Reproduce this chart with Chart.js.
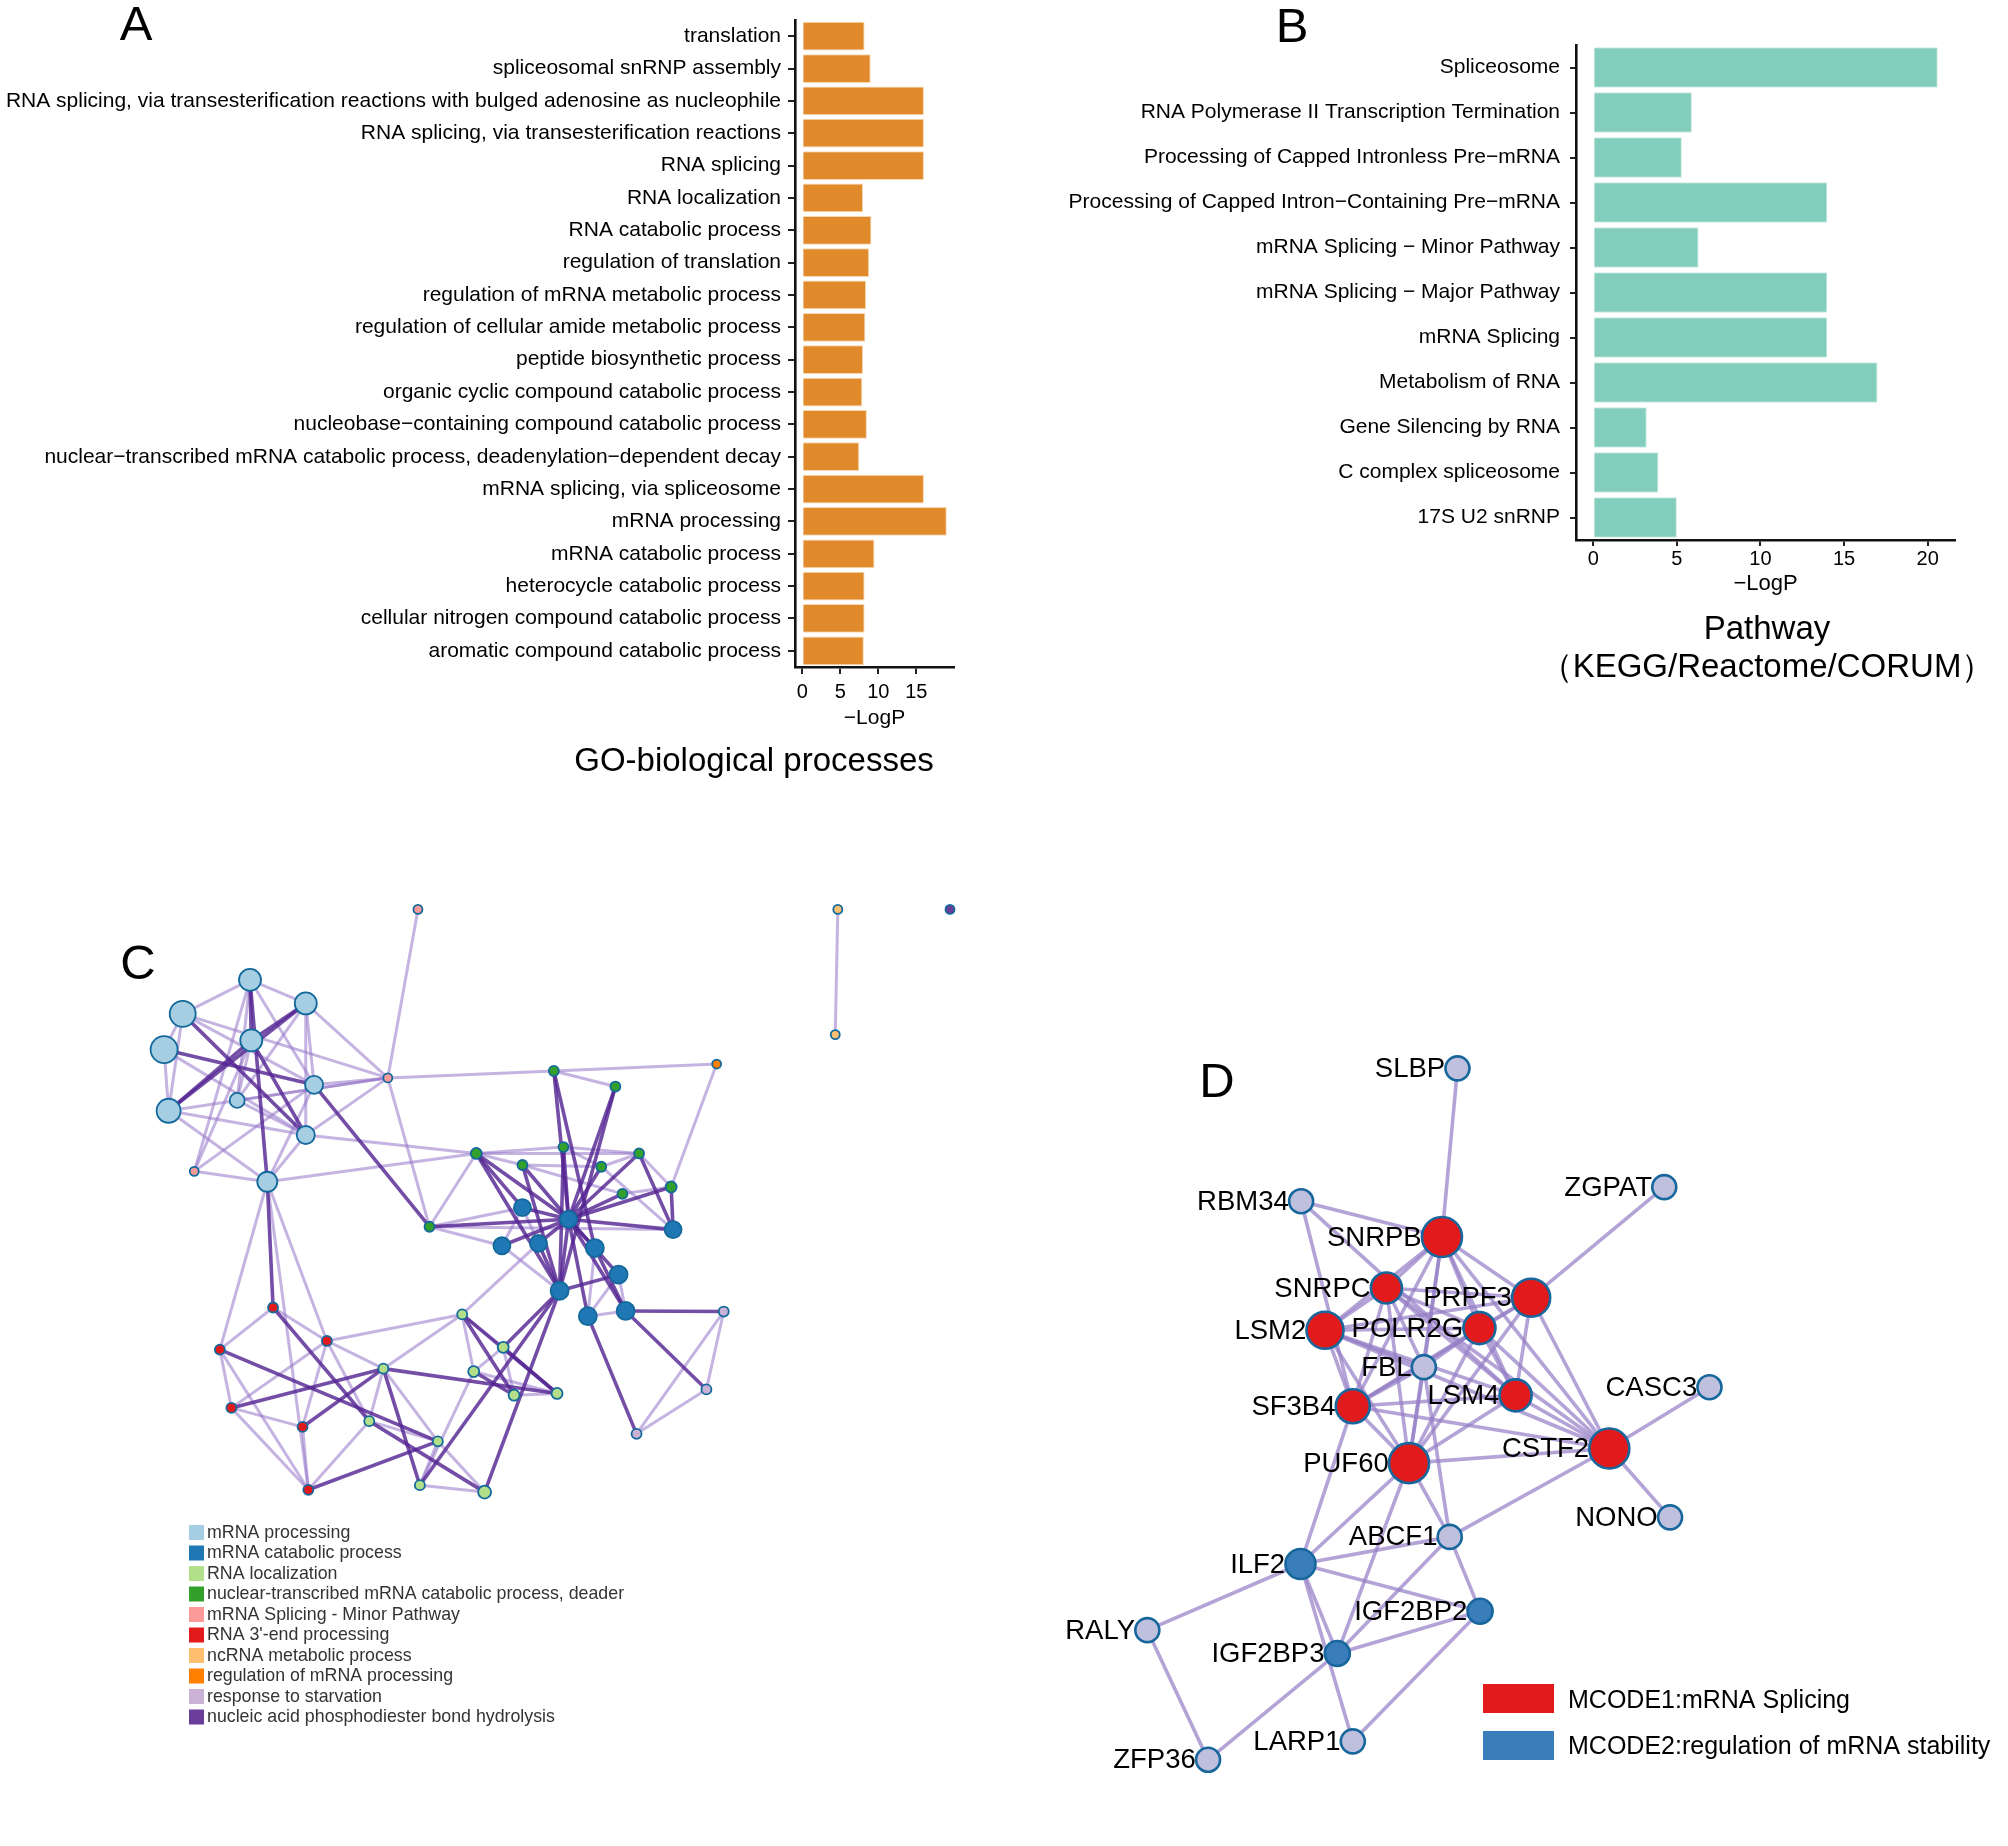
<!DOCTYPE html>
<html><head><meta charset="utf-8">
<script src="https://cdn.jsdelivr.net/npm/chart.js@4.4.1/dist/chart.umd.min.js"></script>
<style>
html,body{margin:0;padding:0;background:#fff;}
body{width:2008px;height:1846px;position:relative;overflow:hidden;}
canvas{position:absolute;}
</style></head><body>
<canvas id="cA" width="1000" height="800" style="left:0;top:0;width:1000px;height:800px"></canvas>
<canvas id="cB" width="1008" height="700" style="left:1000px;top:0;width:1008px;height:700px"></canvas>
<canvas id="cC" width="1000" height="900" style="left:0;top:850px;width:1000px;height:900px"></canvas>
<canvas id="cD" width="1008" height="846" style="left:1000px;top:1000px;width:1008px;height:846px"></canvas>
<script>
// ---------------- DATA ----------------
const goTerms = [
  "translation",
  "spliceosomal snRNP assembly",
  "RNA splicing, via transesterification reactions with bulged adenosine as nucleophile",
  "RNA splicing, via transesterification reactions",
  "RNA splicing",
  "RNA localization",
  "RNA catabolic process",
  "regulation of translation",
  "regulation of mRNA metabolic process",
  "regulation of cellular amide metabolic process",
  "peptide biosynthetic process",
  "organic cyclic compound catabolic process",
  "nucleobase\u2212containing compound catabolic process",
  "nuclear\u2212transcribed mRNA catabolic process, deadenylation\u2212dependent decay",
  "mRNA splicing, via spliceosome",
  "mRNA processing",
  "mRNA catabolic process",
  "heterocycle catabolic process",
  "cellular nitrogen compound catabolic process",
  "aromatic compound catabolic process"
];
const goLogP = [8.2, 9.0, 16.0, 16.0, 16.0, 8.0, 9.1, 8.8, 8.4, 8.3, 8.0, 7.9, 8.5, 7.5, 16.0, 19.0, 9.5, 8.2, 8.2, 8.1];
const goTicks = [0, 5, 10, 15];

const pathwayTerms = [
  "Spliceosome",
  "RNA Polymerase II Transcription Termination",
  "Processing of Capped Intronless Pre\u2212mRNA",
  "Processing of Capped Intron\u2212Containing Pre\u2212mRNA",
  "mRNA Splicing \u2212 Minor Pathway",
  "mRNA Splicing \u2212 Major Pathway",
  "mRNA Splicing",
  "Metabolism of RNA",
  "Gene Silencing by RNA",
  "C complex spliceosome",
  "17S U2 snRNP"
];
const pathwayLogP = [20.6, 5.9, 5.3, 14.0, 6.3, 14.0, 14.0, 17.0, 3.2, 3.9, 5.0];
const pathwayTicks = [0, 5, 10, 15, 20];

// Panel C: enriched-term network (layout units)
const cTerms = ["mRNA processing", "mRNA catabolic process", "RNA localization",
  "nuclear-transcribed mRNA catabolic process, deader", "mRNA Splicing - Minor Pathway",
  "RNA 3'-end processing", "ncRNA metabolic process", "regulation of mRNA processing",
  "response to starvation", "nucleic acid phosphodiester bond hydrolysis"];
const cNodeIds = ["L1","L2","L3","L4","L5","L6","L7","L8","L9","L10","P1","P2","P3","O1","O2","N1","Q1",
  "G1","G2","G3","G4","G5","G6","G7","G8","G9","G10","B1","B2","B3","B4","B5","B6","B7","B8","B9","B10",
  "Y1","Y2","Y3","Y4","Y5","Y6","Y7","Y8","Y9","Y10","E1","E2","E3","E4","E5","E6","V1","V2","V3"];
const cNodeX = [390,477,285,392,256,490,370,263,477,417,652,605,303,1307,1303,1482,1118,
  864,960,743,879,815,938,997,1047,971,670,815,887,783,840,928,1050,965,873,917,976,
  721,785,739,802,869,598,576,683,655,756,426,510,343,361,472,481,1129,1102,993];
const cNodeY = [225,266,284,330,346,407,434,452,494,575,103,395,557,103,320,103,371,
  383,410,526,515,546,549,526,584,596,653,620,640,686,682,690,658,736,764,808,799,
  805,862,904,945,942,899,990,1025,1101,1113,793,851,866,967,1000,1109,800,935,1012];
const cNodeTerm = [0,0,0,0,0,0,0,0,0,0,4,4,4,6,6,9,7,
  3,3,3,3,3,3,3,3,3,3,1,1,1,1,1,1,1,1,1,1,
  2,2,2,2,2,2,2,2,2,2,5,5,5,5,5,5,8,8,8];
const cEdgesStrong = [["L1","L4"],["L1","L10"],["L3","L9"],["L2","L8"],["L5","L6"],["L4","L8"],["L2","L4"],["L4","L9"],["L6","G10"],["L10","E1"],
  ["G1","B2"],["G2","B2"],["G3","B2"],["G4","B2"],["G5","B2"],["G6","B2"],["G7","B2"],["G8","B2"],["G9","B2"],["G10","B2"],
  ["B1","B2"],["B3","B2"],["B4","B2"],["B5","B2"],["B6","B2"],["B7","B2"],["B8","B2"],["B9","B2"],["B10","B2"],
  ["G3","B1"],["G3","B8"],["G5","B8"],["G7","B6"],["G8","B6"],["G2","B8"],["B4","B8"],["B5","B10"],["B7","B8"],["G1","B5"],["G4","B8"],
  ["B10","V1"],["B9","V3"],["B10","V2"],
  ["B8","Y2"],["B8","Y9"],["B8","Y10"],["Y1","Y4"],["Y1","Y5"],["Y2","Y5"],["Y3","Y4"],
  ["E3","Y8"],["E1","Y7"],["E4","Y6"],["E5","Y6"],["E6","Y8"],["Y6","Y9"],["Y6","Y5"],["Y7","Y10"]];
const cEdgesWeak = [["L1","L2"],["L3","L5"],["L5","L8"],["L1","L3"],["L2","L6"],["L2","L9"],["L4","L7"],["L7","L9"],["L8","L9"],["L1","L7"],["L3","L6"],["L1","L6"],
  ["L5","L9"],["L3","L8"],["L10","L9"],["L10","L6"],["L10","L8"],["L2","L7"],
  ["L6","P2"],["L9","P2"],["L8","P2"],["L3","P2"],["L2","P2"],["L7","P2"],["P3","L4"],["P3","L6"],["P3","L10"],["P3","L1"],
  ["P1","P2"],["P2","G1"],["P2","G10"],["L10","G3"],["L9","G3"],
  ["G1","Q1"],["Q1","G8"],["G1","G2"],
  ["G3","G5"],["G3","G4"],["G4","G7"],["G5","G6"],["G6","G7"],["G7","G8"],["G8","G9"],["G3","G10"],["G10","B1"],["G10","B6"],["G10","B3"],
  ["G5","G9"],["G4","G6"],["G3","G7"],
  ["B3","B8"],["B7","B10"],["B5","B9"],["B9","B10"],["B1","B3"],["B6","G6"],["B1","B4"],["B7","B9"],
  ["Y1","B4"],["Y1","Y2"],["Y1","Y3"],["Y2","Y3"],["Y3","Y5"],["Y4","Y5"],["Y2","Y4"],["Y1","Y6"],["Y3","Y9"],
  ["V1","V2"],["V2","V3"],["V1","V3"],
  ["L10","E3"],["L10","E2"],["L10","E6"],
  ["E3","E4"],["E3","E1"],["E1","E2"],["E2","E5"],["E4","E6"],["E3","E6"],["E5","E6"],["E2","Y7"],["E2","Y6"],["E2","E4"],["E2","Y1"],["E4","E5"],["E6","Y7"],
  ["Y6","Y8"],["Y7","Y8"],["Y8","Y9"],["Y9","Y10"],["Y8","Y10"],["Y6","Y7"],
  ["O1","O2"]];

// Panel D: MCODE PPI network (layout units)
const dGenes = ["SLBP","ZGPAT","RBM34","SNRPB","SNRPC","PRPF3","LSM2","POLR2G","FBL","LSM4","SF3B4","CASC3",
  "CSTF2","PUF60","NONO","ABCF1","ILF2","IGF2BP2","RALY","IGF2BP3","LARP1","ZFP36"];
const dNodeX = [708,1028,466,684,598,822,503,742,656,798,546,1098,943,633,1037,696,465,743,228,522,546,322];
const dNodeY = [126,345,371,437,531,549,609,605,677,729,749,714,827,854,954,990,1040,1127,1162,1205,1367,1401];
const dCluster = [0,0,0,1,1,1,1,1,0,1,1,0,1,1,0,0,2,2,0,2,0,0];
const dClusterNames = ["", "MCODE1:mRNA Splicing", "MCODE2:regulation of mRNA stability"];
const dEdges = [["SLBP","SNRPB"],["RBM34","SNRPB"],["RBM34","SF3B4"],["RBM34","LSM4"],["ZGPAT","PRPF3"],
  ["SNRPB","SNRPC"],["SNRPB","PRPF3"],["SNRPB","LSM2"],["SNRPB","POLR2G"],["SNRPB","FBL"],["SNRPB","LSM4"],["SNRPB","SF3B4"],["SNRPB","PUF60"],["SNRPB","CSTF2"],
  ["SNRPC","LSM2"],["SNRPC","PRPF3"],["SNRPC","POLR2G"],["SNRPC","SF3B4"],["SNRPC","PUF60"],["SNRPC","LSM4"],["SNRPC","CSTF2"],["SNRPC","FBL"],
  ["PRPF3","POLR2G"],["PRPF3","LSM2"],["PRPF3","SF3B4"],["PRPF3","PUF60"],["PRPF3","CSTF2"],["PRPF3","LSM4"],
  ["LSM2","POLR2G"],["LSM2","FBL"],["LSM2","SF3B4"],["LSM2","PUF60"],["LSM2","LSM4"],["LSM2","CSTF2"],
  ["POLR2G","FBL"],["POLR2G","SF3B4"],["POLR2G","PUF60"],["POLR2G","LSM4"],["POLR2G","CSTF2"],
  ["FBL","SF3B4"],["FBL","ABCF1"],["FBL","PUF60"],
  ["LSM4","SF3B4"],["LSM4","PUF60"],["LSM4","CSTF2"],
  ["SF3B4","PUF60"],["SF3B4","CSTF2"],["SF3B4","ILF2"],
  ["CSTF2","PUF60"],["CSTF2","CASC3"],["CSTF2","NONO"],["CSTF2","ABCF1"],
  ["PUF60","ILF2"],["PUF60","ABCF1"],["PUF60","IGF2BP3"],
  ["ILF2","ABCF1"],["ILF2","IGF2BP2"],["ILF2","IGF2BP3"],["ILF2","RALY"],["ILF2","LARP1"],
  ["ABCF1","IGF2BP3"],["ABCF1","IGF2BP2"],["IGF2BP2","IGF2BP3"],["IGF2BP2","LARP1"],
  ["IGF2BP3","ZFP36"],["RALY","ZFP36"]];

// ---------------- STYLES ----------------
const FONT = "'Liberation Sans', Arial, Helvetica, sans-serif";
Chart.defaults.font.family = FONT;
Chart.defaults.color = '#000';
const cTermColors = ["#a6cee3","#1f78b4","#b2df8a","#33a02c","#fb9a99","#e31a1c","#fdbf6f","#ff7f00","#cab2d6","#6a3d9a"];
const cNodeRadius = [11,11,13,11,13.5,9,7.5,12,9,10, 4.5,4.5,4.5, 4.5,4.5,4.5,4.5,
  5,5,5.5,5,5,5,5,5.5,5,5, 8.5,8.5,8.5,8.5,9,8.5,9,9,9,9,
  5,5.5,5.5,5.5,5.5,5,5,5,5,6.5, 5,5,5,5,5,5, 5,5,5];
const dClusterColors = ["#bfc0de", "#e31a1c", "#3a7dbb"];
const dNodeRadius = [12,12,12,20,15.5,19,18.5,16,12,16,17,12,20,20,12,12,15,12.5,12,12.5,12,12];

const textPlugin = {
  id: 'panelText',
  afterDraw(chart, args, opts) {
    const ctx = chart.ctx;
    (opts.rects || []).forEach(r => {
      ctx.save(); ctx.fillStyle = r.color; ctx.fillRect(r.x, r.y, r.w, r.h); ctx.restore();
    });
    (opts.items || []).forEach(it => {
      ctx.save();
      ctx.font = (it.size || 20) + 'px ' + FONT;
      ctx.fillStyle = it.color || '#000';
      ctx.textAlign = it.align || 'center';
      ctx.textBaseline = 'middle';
      ctx.fillText(it.text, it.x, it.y);
      ctx.restore();
    });
  }
};

const nodeLabelPlugin = {
  id: 'nodeLabels',
  afterDatasetsDraw(chart, args, opts) {
    if (!opts.labels) return;
    const meta = chart.getDatasetMeta(0);
    const ctx = chart.ctx;
    ctx.save();
    ctx.font = (opts.size || 26) + 'px ' + FONT;
    ctx.fillStyle = '#000';
    ctx.textAlign = 'right';
    ctx.textBaseline = 'middle';
    meta.data.forEach((pt, i) => {
      const r = pt.options.radius + pt.options.borderWidth / 2;
      ctx.fillText(opts.labels[i], pt.x - r + 1, pt.y + 1);
    });
    ctx.restore();
  }
};

function axisStyle(tickLen) {
  return {
    grid: { display: true, drawOnChartArea: false, drawTicks: true, tickLength: tickLen, color: '#222', lineWidth: 2, offset: false },
    border: { display: true, color: '#111', width: 2.6 }
  };
}

// ---------------- PANEL A ----------------
new Chart(document.getElementById('cA'), {
  type: 'bar',
  data: { labels: goTerms, datasets: [{ data: goLogP, backgroundColor: '#E18A2B', borderColor: '#F8D8B2', borderWidth: 1, barPercentage: 0.89, categoryPercentage: 1 }] },
  options: {
    indexAxis: 'y', responsive: false, animation: false, events: [],
    layout: { padding: { top: 20, right: 46, bottom: 0, left: 0 } },
    plugins: {
      legend: { display: false }, tooltip: { enabled: false },
      panelText: { items: [
        { text: 'A', x: 136, y: 26, size: 49 },
        { text: 'GO-biological processes', x: 754, y: 762, size: 33 }
      ] }
    },
    scales: {
      y: Object.assign(axisStyle(7), {
        afterFit: s => { s.width = 795; },
        ticks: { font: { size: 21 }, color: '#000', padding: 7, autoSkip: false }
      }),
      x: Object.assign(axisStyle(7), {
        type: 'linear', min: -0.95, max: 19.95,
        afterBuildTicks: s => { s.ticks = goTicks.map(v => ({ value: v })); },
        afterFit: s => { s.height = 133; },
        ticks: { font: { size: 20 }, color: '#000', padding: 6 },
        title: { display: true, text: '\u2212LogP', font: { size: 21 }, color: '#000', padding: { top: 0, bottom: 69 } }
      })
    }
  },
  plugins: [textPlugin]
});

// ---------------- PANEL B ----------------
new Chart(document.getElementById('cB'), {
  type: 'bar',
  data: { labels: pathwayTerms, datasets: [{ data: pathwayLogP, backgroundColor: '#82CDBB', borderColor: '#CBECE3', borderWidth: 1, barPercentage: 0.9, categoryPercentage: 1 }] },
  options: {
    indexAxis: 'y', responsive: false, animation: false, events: [],
    layout: { padding: { top: 45, right: 53, bottom: 0, left: 0 } },
    plugins: {
      legend: { display: false }, tooltip: { enabled: false },
      panelText: { items: [
        { text: 'B', x: 292, y: 28, size: 49 },
        { text: 'Pathway', x: 767, y: 630, size: 33 },
        { text: '\uFF08KEGG/Reactome/CORUM\uFF09', x: 767, y: 668, size: 33 }
      ] }
    },
    scales: {
      y: Object.assign(axisStyle(6), {
        afterFit: s => { s.width = 576; },
        ticks: { font: { size: 21 }, color: '#000', padding: 10, autoSkip: false }
      }),
      x: Object.assign(axisStyle(6), {
        type: 'linear', min: -1.03, max: 21.63,
        afterBuildTicks: s => { s.ticks = pathwayTicks.map(v => ({ value: v })); },
        afterFit: s => { s.height = 160; },
        ticks: { font: { size: 20 }, color: '#000', padding: 1.5 },
        title: { display: true, text: '\u2212LogP', font: { size: 22 }, color: '#000', padding: { top: 0, bottom: 103 } }
      })
    }
  },
  plugins: [textPlugin]
});

// ---------------- network helpers ----------------
function edgeSets(edges, ids, X, Y, color, width) {
  return edges.map(([a, b]) => {
    const i = ids.indexOf(a), j = ids.indexOf(b);
    return { data: [{ x: X[i], y: Y[i] }, { x: X[j], y: Y[j] }], showLine: true, borderColor: color, borderWidth: width,
      pointRadius: 0, pointHoverRadius: 0, order: 2, clip: false, borderCapStyle: 'round' };
  });
}
const netScales = {
  x: { type: 'linear', display: false, min: 0, max: 1560 },
  y: { type: 'linear', display: false, min: 0, max: 1560, reverse: true }
};

// ---------------- PANEL C ----------------
const cLegendRects = cTerms.map((t, i) => ({ x: 189, y: 675 + i * 20.5, w: 15, h: 15, color: cTermColors[i] }));
const cLegendItems = cTerms.map((t, i) => ({ text: t, x: 207, y: 683 + i * 20.5, size: 17.8, align: 'left', color: '#333' }));
new Chart(document.getElementById('cC'), {
  type: 'scatter',
  data: { datasets: [
    { data: cNodeIds.map((id, i) => ({ x: cNodeX[i], y: cNodeY[i] })),
      pointRadius: cNodeRadius, pointHoverRadius: cNodeRadius,
      pointBackgroundColor: cNodeTerm.map(t => cTermColors[t]),
      pointBorderColor: '#13699b', pointBorderWidth: 1.8, order: 0, clip: false }
  ].concat(
    edgeSets(cEdgesStrong, cNodeIds, cNodeX, cNodeY, 'rgba(84,38,146,0.82)', 3.6),
    edgeSets(cEdgesWeak, cNodeIds, cNodeX, cNodeY, 'rgba(150,118,200,0.55)', 3)
  ) },
  options: {
    responsive: false, animation: false, events: [],
    layout: { padding: 0, autoPadding: false },
    plugins: { legend: { display: false }, tooltip: { enabled: false },
      panelText: { rects: cLegendRects, items: [{ text: 'C', x: 138, y: 115, size: 49 }].concat(cLegendItems) } },
    scales: netScales
  },
  plugins: [textPlugin]
});

// ---------------- PANEL D ----------------
new Chart(document.getElementById('cD'), {
  type: 'scatter',
  data: { datasets: [
    { data: dGenes.map((g, i) => ({ x: dNodeX[i], y: dNodeY[i] })),
      pointRadius: dNodeRadius, pointHoverRadius: dNodeRadius,
      pointBackgroundColor: dCluster.map(c => dClusterColors[c]),
      pointBorderColor: '#17679c', pointBorderWidth: 2.6, order: 0, clip: false }
  ].concat(edgeSets(dEdges, dGenes, dNodeX, dNodeY, 'rgba(150,128,198,0.72)', 3.6)) },
  options: {
    responsive: false, animation: false, events: [],
    layout: { padding: 0, autoPadding: false },
    plugins: { legend: { display: false }, tooltip: { enabled: false },
      nodeLabels: { labels: dGenes, size: 27.5 },
      panelText: {
        rects: [
          { x: 483, y: 684, w: 71, h: 29, color: dClusterColors[1] },
          { x: 483, y: 731, w: 71, h: 29, color: dClusterColors[2] }
        ],
        items: [
          { text: 'D', x: 217, y: 83, size: 49 },
          { text: dClusterNames[1], x: 568, y: 701, size: 25, align: 'left' },
          { text: dClusterNames[2], x: 568, y: 747, size: 25, align: 'left' }
        ]
      }
    },
    scales: netScales
  },
  plugins: [textPlugin, nodeLabelPlugin]
});
</script>
</body></html>
